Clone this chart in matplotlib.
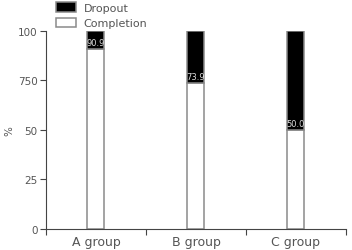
import numpy as np
import matplotlib.pyplot as plt

groups = ['A group', 'B group', 'C group']
completion = [90.9, 73.9, 50.0]
dropout = [100 - c for c in completion]
ytick_vals = [0, 25, 50, 75, 100]
ytick_labels = ['0', '25', '50', '750', '100']

fig = plt.figure(figsize=(3.52, 2.51), dpi=100)
ax = fig.add_axes([0.1307, 0.0837, 0.852, 0.789])

x = np.arange(len(groups))
w = 0.17
edge = '#8a8a8a'
ax.bar(x, completion, w, color='white', edgecolor=edge, linewidth=1.1,
       label='Completion', zorder=2)
ax.bar(x, dropout, w, bottom=completion, color='black', edgecolor=edge,
       linewidth=1.1, label='Dropout', zorder=2)

for xi, c in zip(x, completion):
    ax.text(xi, c + 1, f'{c:.1f}', ha='center', va='bottom', color='#dddddd',
            fontsize=6, zorder=3)

ax.set_xlim(-0.5, 2.5)
ax.set_ylim(0, 100)
ax.set_xticks([-0.5, 0.5, 1.5, 2.5])
ax.set_xticklabels([])
ax.set_xticks(x, minor=True)
ax.set_xticklabels(groups, minor=True, fontsize=9, color='#555555')
ax.tick_params(axis='x', which='minor', length=0, pad=4)
ax.tick_params(axis='x', which='major', length=4, direction='out', color='#444444')
ax.set_yticks(ytick_vals)
ax.set_yticklabels(ytick_labels, fontsize=7.5, color='#555555')
ax.tick_params(axis='y', length=4, color='#444444', pad=2)
ax.set_ylabel('%', fontsize=7.5, color='#555555')
ax.yaxis.set_label_coords(-0.105, 0.5)

for s in ['top', 'right']:
    ax.spines[s].set_visible(False)
for s in ['left', 'bottom']:
    ax.spines[s].set_color('#444444')

handles, labels = ax.get_legend_handles_labels()
ax.legend(handles[::-1], labels[::-1], loc='lower left', bbox_to_anchor=(0.015, 0.985),
          frameon=False, fontsize=8, handlelength=1.8, handleheight=0.9,
          labelspacing=0.45, borderpad=0, handletextpad=0.7, labelcolor='#555555')

fig.savefig('out.png', dpi=100)
